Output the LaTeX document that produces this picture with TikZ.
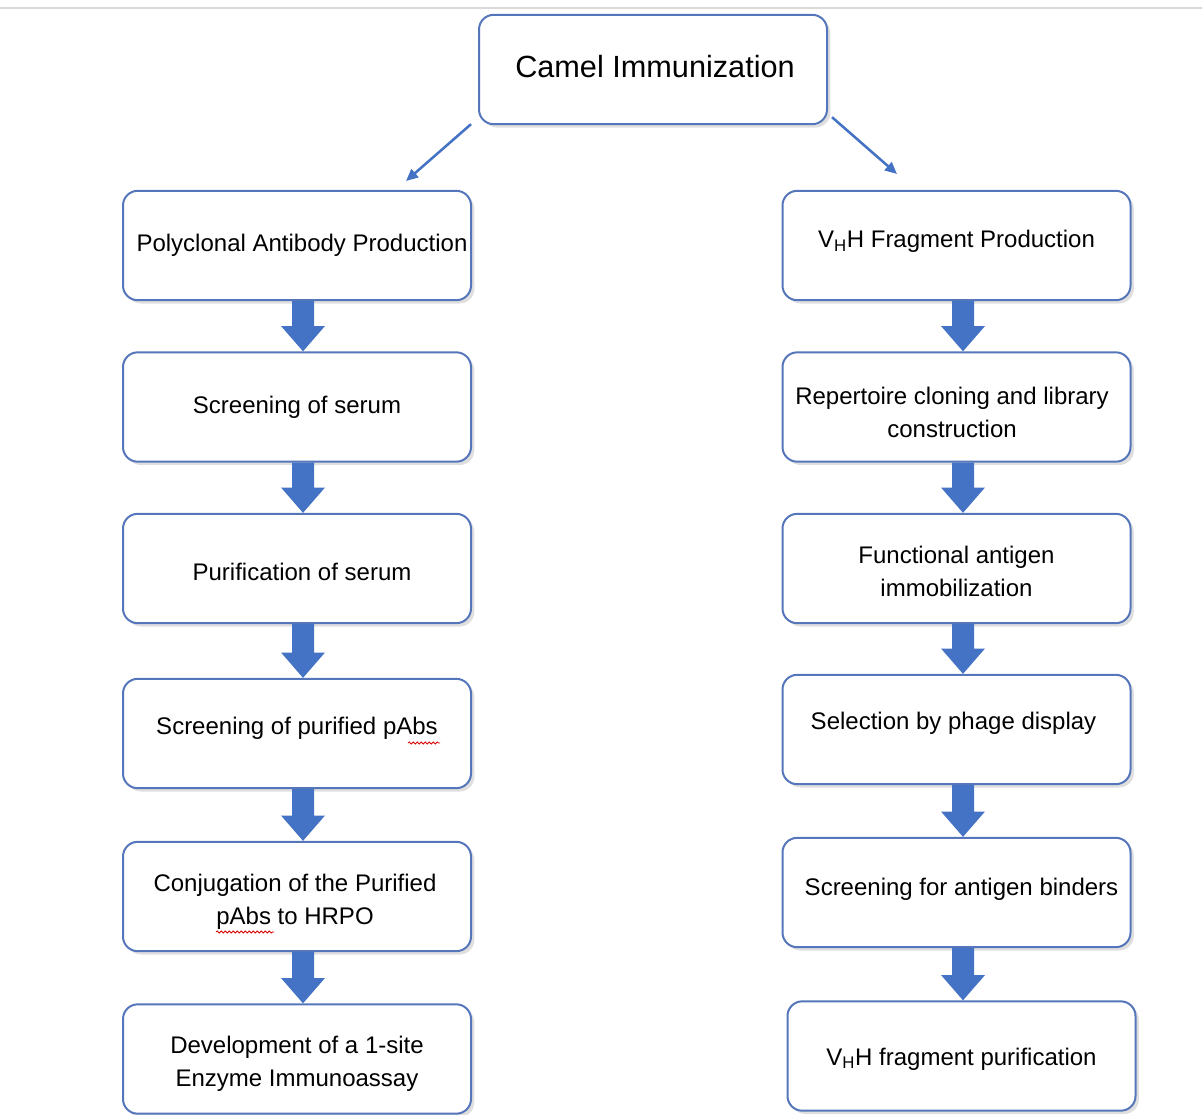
\documentclass[tikz,border=0pt]{standalone}
\usepackage{fontspec}
\setmainfont{Liberation Sans}
\usetikzlibrary{arrows.meta,shadows,calc,decorations.pathmorphing}
\definecolor{boxblue}{HTML}{5576BA}
\definecolor{arrblue}{HTML}{4472C4}
\newcommand\blockarr[2]{%
  \fill[arrblue] let \p1=(#1), \p2=(#2) in
    (\x1-8.25pt,\y1) -- (\x1+8.25pt,\y1) -- (\x1+8.25pt,\y2+19pt) --
    (\x1+16.5pt,\y2+19pt) -- (\x1,\y2) -- (\x1-16.5pt,\y2+19pt) --
    (\x1-8.25pt,\y2+19pt) -- cycle;}
\begin{document}
\begin{tikzpicture}[x=0.75pt,y=-0.75pt,
  box/.style={draw=boxblue, line width=1.5pt, rounded corners=11pt, fill=white,
    minimum width=261pt, minimum height=82pt, inner sep=0pt,
    drop shadow={shadow xshift=2.5pt,shadow yshift=-2.5pt,opacity=0.25,fill=gray}},
  txt/.style={align=center, inner sep=0pt, text=black,
    font=\fontsize{18}{25}\selectfont},
  thinarrow/.style={draw=arrblue, line width=1.9pt, -{Triangle[length=9pt,width=8pt]}},
  squig/.style={draw=red!85!black, line width=0.6pt,
    decorate, decoration={snake, amplitude=0.8pt, segment length=3pt}}]
\useasboundingbox (0,0) rectangle (1202,1114);
\draw[black!15, line width=0.8pt] (0,8) -- (1202,8);

% top
\node[box, label={[txt, font=\fontsize{23}{28}\selectfont, shift={(2,-3)}]center:Camel Immunization}]
  (camel) at (653,69.5) {};

% left column
\node[box, label={[txt, shift={(5,0)}]center:Polyclonal Antibody Production}] (l1) at (297,245.5) {};
\node[box, label={[txt, shift={(0,0)}]center:Screening of serum}] (l2) at (297,407) {};
\node[box, label={[txt, shift={(5,3)}]center:Purification of serum}] (l3) at (297,568.5) {};
\node[box, label={[txt, shift={(0,-5)}]center:Screening of purified pAbs}] (l4) at (297,733.5) {};
\node[box, label={[txt, shift={(-2,5)}]center:Conjugation of the Purified\\pAbs to HRPO}] (l5) at (297,896.5) {};
\node[box, label={[txt, shift={(0,5)}]center:Development of a 1-site\\Enzyme Immunoassay}] (l6) at (297,1059) {};

% right column
\node[box, label={[txt, shift={(0,-4)}]center:V\textsubscript{H}H Fragment Production}] (r1) at (956.5,245.5) {};
\node[box, label={[txt, shift={(-4.5,5.5)}]center:Repertoire cloning and library\\construction}] (r2) at (956.5,407) {};
\node[box, label={[txt, shift={(0,3)}]center:Functional antigen\\immobilization}] (r3) at (956.5,568.5) {};
\node[box, label={[txt, shift={(-3,-6)}]center:Selection by phage display}] (r4) at (956.5,729.5) {};
\node[box, label={[txt, shift={(5,-3)}]center:Screening for antigen binders}] (r5) at (956.5,892.5) {};
\node[box, label={[txt, shift={(0,3)}]center:V\textsubscript{H}H fragment purification}] (r6) at (961.5,1056) {};

% diagonal arrows
\coordinate (lt) at (406,181);
\coordinate (rt) at (897,174);
\draw[thinarrow] ($(camel.south west)+(-7,-1)$) -- (lt);
\draw[thinarrow] ($(camel.south east)+(4,-8)$) -- (rt);

% block arrows
\blockarr{$(l1.south)+(6,0)$}{$(l2.north)+(6,0)$}
\blockarr{$(l2.south)+(6,0)$}{$(l3.north)+(6,0)$}
\blockarr{$(l3.south)+(6,0)$}{$(l4.north)+(6,0)$}
\blockarr{$(l4.south)+(6,0)$}{$(l5.north)+(6,0)$}
\blockarr{$(l5.south)+(6,0)$}{$(l6.north)+(6,0)$}
\blockarr{$(r1.south)+(6.5,0)$}{$(r2.north)+(6.5,0)$}
\blockarr{$(r2.south)+(6.5,0)$}{$(r3.north)+(6.5,0)$}
\blockarr{$(r3.south)+(6.5,0)$}{$(r4.north)+(6.5,0)$}
\blockarr{$(r4.south)+(6.5,0)$}{$(r5.north)+(6.5,0)$}
\blockarr{$(r5.south)+(6.5,0)$}{$(r6.north)+(1.5,0)$}

% spell-check underlines
\draw[squig] (408,743) -- (440,743);
\draw[squig] (216,932) -- (274,932);
\end{tikzpicture}
\end{document}
